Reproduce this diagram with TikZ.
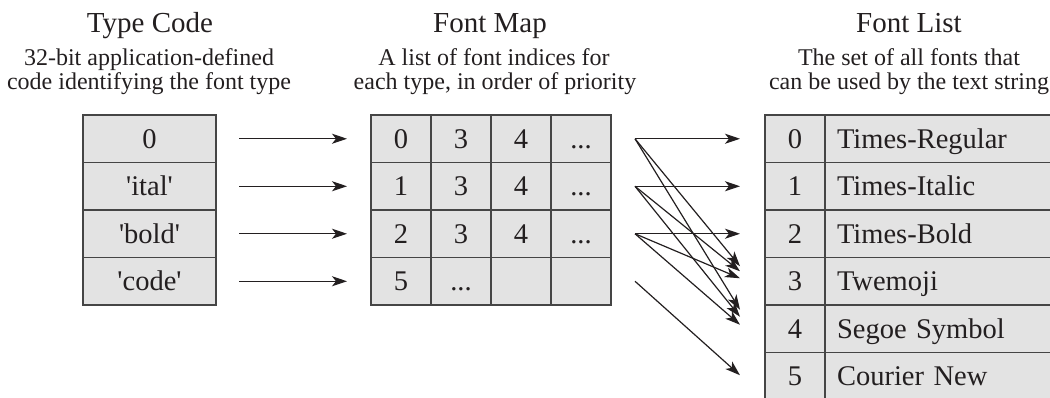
\documentclass[tikz,border=0pt]{standalone}
\usepackage{fontspec}
\setmainfont{Liberation Serif}
\usetikzlibrary{arrows.meta,calc}
\definecolor{cellfill}{HTML}{E3E3E3}
\definecolor{edge}{HTML}{454545}
\definecolor{ink}{HTML}{231F20}
\begin{document}
\begin{tikzpicture}[x=1pt,y=-1pt,
  cell/.style={draw=edge, line width=1.4pt, fill=cellfill, minimum height=47.5pt,
    inner sep=0pt, outer sep=0pt, text=ink, font=\fontsize{28.5}{28.5}\selectfont,
    text height=19pt, text depth=0pt, anchor=north west},
  cellw/.style={cell, minimum width=#1},
  namecell/.style={cell, minimum width=300pt, inner xsep=12pt, text width=276pt, align=left},
  title/.style={anchor=base, text=ink, inner sep=0pt, font=\fontsize{29}{29}\selectfont},
  sub/.style={anchor=base, text=ink, inner sep=0pt, font=\fontsize{24}{24}\selectfont},
  conn/.style={draw=ink, line width=1.2pt, -{Stealth[length=15pt,width=10pt,inset=4pt]}}]
\useasboundingbox (0,0) rectangle (1050,397);
\clip (0,0) rectangle (1050,397);

% headings
\node[title] (h1) at (150,32) {Type Code};
\node[sub] (h1a) at (149,65) {32-bit application-defined};
\node[sub] (h1b) at (149,89) {code identifying the font type};
\node[title] (h2) at (490,32) {Font Map};
\node[sub] (h2a) at (494,65) {A list of font indices for};
\node[sub] (h2b) at (495,89) {each type, in order of priority};
\node[title] (h3) at (909,32) {Font List};
\node[sub] (h3a) at (909,65) {The set of all fonts that};
\node[sub] (h3b) at (909,89) {can be used by the text string};

% type code table
\node[cellw=133pt] (L0) at (83,115) {0};
\node[cellw=133pt] (L1) at (83,162.5) {\textquotesingle ital\textquotesingle};
\node[cellw=133pt] (L2) at (83,210) {\textquotesingle bold\textquotesingle};
\node[cellw=133pt] (L3) at (83,257.5) {\textquotesingle code\textquotesingle};

% font map table
\node[cellw=60pt] (M0-1) at (371,115) {0};
\node[cellw=60pt] (M0-2) at (431,115) {3};
\node[cellw=60pt] (M0-3) at (491,115) {4};
\node[cellw=60pt] (M0-4) at (551,115) {...};
\node[cellw=60pt] (M1-1) at (371,162.5) {1};
\node[cellw=60pt] (M1-2) at (431,162.5) {3};
\node[cellw=60pt] (M1-3) at (491,162.5) {4};
\node[cellw=60pt] (M1-4) at (551,162.5) {...};
\node[cellw=60pt] (M2-1) at (371,210) {2};
\node[cellw=60pt] (M2-2) at (431,210) {3};
\node[cellw=60pt] (M2-3) at (491,210) {4};
\node[cellw=60pt] (M2-4) at (551,210) {...};
\node[cellw=60pt] (M3-1) at (371,257.5) {5};
\node[cellw=60pt] (M3-2) at (431,257.5) {...};
\node[cellw=60pt] (M3-3) at (491,257.5) {};
\node[cellw=60pt] (M3-4) at (551,257.5) {};

% font list table
\node[cellw=60pt] (R0) at (765,115) {0};
\node[namecell] (N0) at (825,115) {Times-Regular};
\node[cellw=60pt] (R1) at (765,162.5) {1};
\node[namecell] (N1) at (825,162.5) {Times-Italic};
\node[cellw=60pt] (R2) at (765,210) {2};
\node[namecell] (N2) at (825,210) {Times-Bold};
\node[cellw=60pt] (R3) at (765,257.5) {3};
\node[namecell] (N3) at (825,257.5) {Twemoji};
\node[cellw=60pt] (R4) at (765,305) {4};
\node[namecell] (N4) at (825,305) {Segoe Symbol};
\node[cellw=60pt] (R5) at (765,352.5) {5};
\node[namecell] (N5) at (825,352.5) {Courier New};

% arrows type code -> font map
\foreach \i in {0,...,3}
  \draw[conn, shorten <=23pt, shorten >=24pt] (L\i) -- (M\i-1);

% arrows font map -> font list
\foreach \i in {0,...,3}
  \coordinate (s\i) at ($(M\i-4.east)+(24,0)$);
\foreach \i in {0,...,2}
  \draw[conn, shorten >=25pt] (s\i) -- (R\i);
\coordinate (t03) at ($(R3.west)+(-25,-15)$);
\coordinate (t13) at ($(R3.west)+(-25,-10)$);
\coordinate (t23) at ($(R3.west)+(-25,-3)$);
\coordinate (t04) at ($(R4.west)+(-25,-19)$);
\coordinate (t14) at ($(R4.west)+(-25,-12)$);
\coordinate (t24) at ($(R4.west)+(-25,-4)$);
\coordinate (t35) at ($(R5.west)+(-25,-1)$);
\draw[conn] (s0) -- (t03);
\draw[conn] (s1) -- (t13);
\draw[conn] (s2) -- (t23);
\draw[conn] (s0) -- (t04);
\draw[conn] (s1) -- (t14);
\draw[conn] (s2) -- (t24);
\draw[conn] (s3) -- (t35);
\end{tikzpicture}
\end{document}
